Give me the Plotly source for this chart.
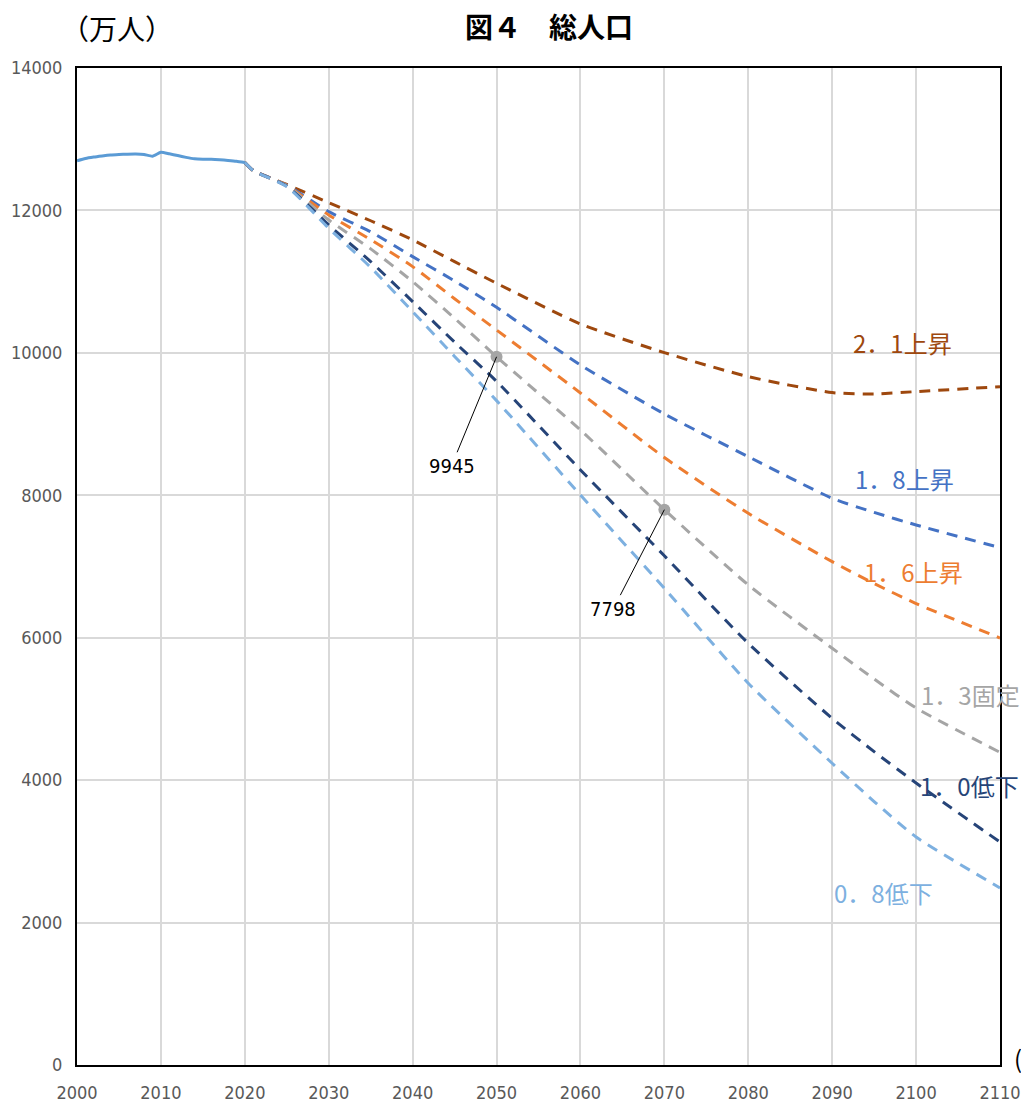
import plotly.graph_objects as go

# ---- data (万人) ----
hist_years = [2000, 2001, 2002, 2003, 2004, 2005, 2006, 2007, 2008, 2009, 2010,
              2011, 2012, 2013, 2014, 2015, 2016, 2017, 2018, 2019, 2020]
hist_pop = [12698, 12730, 12750, 12765, 12778, 12785, 12790, 12792, 12785, 12761, 12817,
            12795, 12770, 12745, 12725, 12719, 12718, 12712, 12702, 12690, 12672]

proj_years = [2020, 2021, 2025, 2030, 2035, 2040, 2045, 2050, 2060, 2070, 2080, 2090, 2095, 2100, 2110]
proj_21 = [12672, 12560, 12365, 12109, 11855, 11586, 11281, 10977, 10406, 10003, 9666, 9442, 9423, 9456, 9525]
proj_18 = [12672, 12560, 12355, 11983, 11700, 11351, 11010, 10640, 9830, 9142, 8543, 7958, 7760, 7583, 7265]
proj_16 = [12672, 12560, 12350, 11936, 11590, 11211, 10760, 10321, 9437, 8530, 7747, 7068, 6760, 6480, 5996]
proj_13 = [12672, 12560, 12346, 11866, 11460, 11000, 10486, 9945, 8917, 7798, 6741, 5852, 5420, 5013, 4390]
proj_10 = [12672, 12560, 12340, 11796, 11281, 10720, 10150, 9600, 8356, 7150, 5921, 4868, 4400, 3960, 3131]
proj_08 = [12672, 12560, 12335, 11750, 11200, 10579, 9950, 9329, 8004, 6694, 5360, 4237, 3700, 3202, 2486]

series_names = ["2．1上昇", "1．8上昇", "1．6上昇", "1．3固定", "1．0低下", "0．8低下"]
series_vals = [proj_21, proj_18, proj_16, proj_13, proj_10, proj_08]
series_colors = ["#9E480E", "#4472C4", "#ED7D31", "#A5A5A5", "#264478", "#7DB0E0"]

point_years = [2050, 2070]
point_vals = [9945, 7798]

x_ticks = list(range(2000, 2111, 10))
y_ticks = list(range(0, 14001, 2000))

# label positions (data coords)
label_pos = [(2098.4, 10139, "center"), (2098.6, 8229, "center"), (2099.7, 6923, "center"),
             (2100.4, 5196, "left"), (2100.2, 3918, "left"), (2096.1, 2429, "center")]

tick_font = dict(family="Liberation Sans Narrow, DejaVu Sans Condensed, Arial Narrow, sans-serif",
                 size=18, color="#595959")
cjk = "Noto Sans CJK JP, sans-serif"

fig = go.Figure()

for name, vals, col in zip(series_names, series_vals, series_colors):
    fig.add_trace(go.Scatter(x=proj_years, y=vals, mode="lines", name=name,
                             line=dict(color=col, width=3, dash="11px,8px",
                                       shape="spline", smoothing=0.6),
                             showlegend=False, hoverinfo="skip"))

fig.add_trace(go.Scatter(x=hist_years, y=hist_pop, mode="lines",
                         line=dict(color="#5B9BD5", width=3, shape="spline", smoothing=0.5),
                         showlegend=False))

fig.add_trace(go.Scatter(x=point_years, y=point_vals, mode="markers",
                         marker=dict(color="#A5A5A5", size=12),
                         showlegend=False))

for (lx, ly, anc), name, col in zip(label_pos, series_names, series_colors):
    fig.add_annotation(x=lx, y=ly, xref="x", yref="y", text=name, showarrow=False,
                       xanchor=anc, yanchor="middle",
                       font=dict(family=cjk, size=24, color=col))

# value callouts
for px_, py_, ax_, ay_ in [(2050, 9945, -45, 109), (2070, 7798, -51, 99)]:
    fig.add_annotation(x=px_, y=py_, xref="x", yref="y", text=str(py_),
                       showarrow=True, arrowhead=0, arrowwidth=1, arrowcolor="#000000",
                       ax=ax_, ay=ay_,
                       font=dict(family=tick_font["family"], size=20, color="#000000"))

fig.add_annotation(x=(549 - 77) / 923, y=1.0, xref="paper", yref="paper", yshift=42,
                   xanchor="center", yanchor="middle", text="<b>図４　総人口</b>", showarrow=False,
                   font=dict(family=cjk, size=28, color="#000000"))
fig.add_annotation(x=(117 - 77) / 923, y=1.0, xref="paper", yref="paper", yshift=40,
                   xanchor="center", yanchor="middle", showarrow=False,
                   text="（万人）", font=dict(family=cjk, size=28, color="#000000"))
fig.add_annotation(x=1.0, y=0.0, xref="paper", yref="paper", showarrow=False,
                   xanchor="left", yanchor="middle", xshift=12, yshift=8,
                   text="(年)", font=dict(family=cjk, size=24, color="#000000"))

fig.update_xaxes(range=[2000, 2110], tickvals=x_ticks, ticktext=[str(v) for v in x_ticks],
                 showgrid=True, gridcolor="#D9D9D9", gridwidth=1.5,
                 showline=True, linecolor="#000000", linewidth=2, mirror=True,
                 ticks="", tickfont=tick_font, ticklabelstandoff=10, zeroline=False,
                 automargin=False)
fig.update_yaxes(range=[0, 14000], tickvals=y_ticks, ticktext=[str(v) for v in y_ticks],
                 showgrid=True, gridcolor="#D9D9D9", gridwidth=1.5,
                 showline=True, linecolor="#000000", linewidth=2, mirror=True,
                 ticks="", tickfont=tick_font, ticklabelstandoff=9, zeroline=False,
                 automargin=False)

# page body adds ~8px offset; compensate so the plot area lands at 77..1000 x 68..1065
fig.update_layout(width=1029, height=1109,
                  margin=dict(l=69, r=37, t=60, b=52, autoexpand=False),
                  plot_bgcolor="#FFFFFF", paper_bgcolor="#FFFFFF")

fig.write_html("out.html")
